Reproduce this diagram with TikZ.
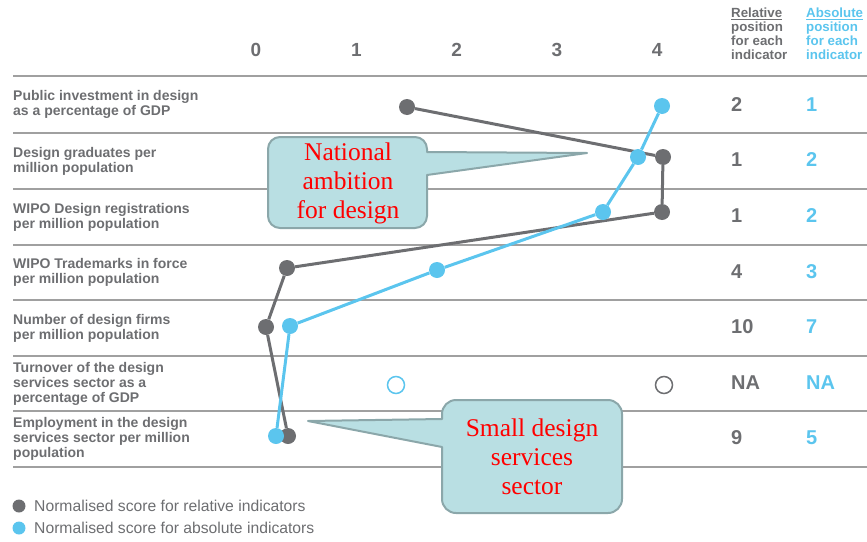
\documentclass[tikz,border=0pt]{standalone}
\usepackage{fontspec}
\setmainfont{Liberation Sans}
\newfontfamily\calloutfont{Liberation Serif}
\definecolor{relgray}{HTML}{6D6E71}
\definecolor{absblue}{HTML}{5BC5EE}
\definecolor{rulegray}{HTML}{A0A0A0}
\definecolor{bubblefill}{HTML}{B9DFE3}
\definecolor{bubbleline}{HTML}{8BA7AA}
\begin{document}
\begin{tikzpicture}[x=1pt,y=-1pt,
  rowlabel/.style={anchor=west,align=left,inner sep=0pt,text=relgray,font=\bfseries\fontsize{14}{15}\selectfont},
  headlabel/.style={anchor=north west,align=left,inner sep=0pt,font=\bfseries\fontsize{13.3}{14.2}\selectfont},
  tick/.style={text=relgray,font=\bfseries\fontsize{19}{19}\selectfont},
  relnum/.style={anchor=west,inner sep=0pt,text=relgray,font=\bfseries\fontsize{20}{20}\selectfont},
  absnum/.style={anchor=west,inner sep=0pt,text=absblue,font=\bfseries\fontsize{20}{20}\selectfont},
  rowrule/.style={draw=rulegray,line width=1.2pt},
  reldot/.style={circle,fill=relgray,minimum size=16pt,inner sep=0pt},
  absdot/.style={circle,fill=absblue,minimum size=16pt,inner sep=0pt},
  relna/.style={circle,draw=relgray,fill=white,line width=1.5pt,minimum size=17pt,inner sep=0pt},
  absna/.style={circle,draw=absblue,fill=white,line width=1.5pt,minimum size=17pt,inner sep=0pt},
  relline/.style={draw=relgray,line width=3pt},
  absline/.style={draw=absblue,line width=3pt},
  legend/.style={anchor=west,inner sep=0pt,text=relgray,font=\fontsize{15.7}{15.7}\selectfont},
  bubble/.style={fill=bubblefill,draw=bubbleline,line width=2pt,line join=round},
  bubbletext/.style={align=center,text=red,font=\calloutfont\fontsize{25.5}{29}\selectfont}]
\useasboundingbox (0,0) rectangle (867,541);

% table rules and axis
\foreach \y in {76,133,189,245,300,356,411,467}
  \draw[rowrule] (13,\y) -- (867,\y);
\foreach \v in {0,...,4}
  \node[tick] (tick\v) at (256+100.3*\v,50) {\v};
\node[headlabel,text=relgray] (relhead) at (731,7.5) {\underline{Relative}\\position\\for each\\indicator};
\node[headlabel,text=absblue] (abshead) at (806,7.5) {\underline{Absolute}\\position\\for each\\indicator};

% indicators
\foreach \i/\y/\t in {1/104.5/{Public investment in design\\as a percentage of GDP},
    2/161/{Design graduates per\\million population},
    3/217/{WIPO Design registrations\\per million population},
    4/272.5/{WIPO Trademarks in force\\per million population},
    5/328/{Number of design firms\\per million population},
    6/383.5/{Turnover of the design\\services sector as a\\percentage of GDP},
    7/439/{Employment in the design\\services sector per million\\population}}
  \node[rowlabel] (lab\i) at (13,\y) {\t};
\foreach \i/\y/\r/\a in {1/105/2/1,2/160/1/2,3/216/1/2,4/272/4/3,5/327/10/7,6/383/NA/NA,7/438/9/5} {
  \node[relnum] (rank\i) at (731,\y) {\r};
  \node[absnum] (pos\i) at (806,\y) {\a};
}

% relative scores
\node[reldot] (r1) at (407,107) {};
\node[reldot] (r2) at (663,157) {};
\node[reldot] (r3) at (662,212) {};
\node[reldot] (r4) at (287,268) {};
\node[reldot] (r5) at (266,327) {};
\node[relna] (r6) at (664,385) {};
\node[reldot] (r7) at (288,436) {};
\draw[relline] (r1) -- (r2) -- (r3) -- (r4) -- (r5) -- (r7);

% absolute scores
\node[absdot] (a1) at (662,106) {};
\node[absdot] (a2) at (638,157) {};
\node[absdot] (a3) at (603,212) {};
\node[absdot] (a4) at (437,270) {};
\node[absdot] (a5) at (290,326) {};
\node[absna] (a6) at (396,385) {};
\node[absdot] (a7) at (276,436) {};
\draw[absline] (a1) -- (a2) -- (a3) -- (a4) -- (a5) -- (a7);

% legend
\node[reldot,minimum size=13pt] (relkey) at (19,506) {};
\node[absdot,minimum size=13pt] (abskey) at (19,528) {};
\node[legend] (reltext) at (34,506) {Normalised score for relative indicators};
\node[legend] (abstext) at (34,528) {Normalised score for absolute indicators};

% callouts
\draw[bubble,rounded corners=12pt] (268,137) -- (427,137) [sharp corners] -- (427,152) -- (587,153) -- (427,175) [rounded corners=12pt] -- (427,228) -- (268,228) -- cycle;
\node[bubbletext] (ambition) at (348,183) {National\\ambition\\for design};
\draw[bubble,rounded corners=14pt] (442,400) -- (622,400) -- (622,513) -- (442,513) [sharp corners] -- (442,447) -- (308,421) -- (442,419) [rounded corners=14pt] -- cycle;
\node[bubbletext] (smallsector) at (532,457) {Small design\\services\\sector};
\end{tikzpicture}
\end{document}
